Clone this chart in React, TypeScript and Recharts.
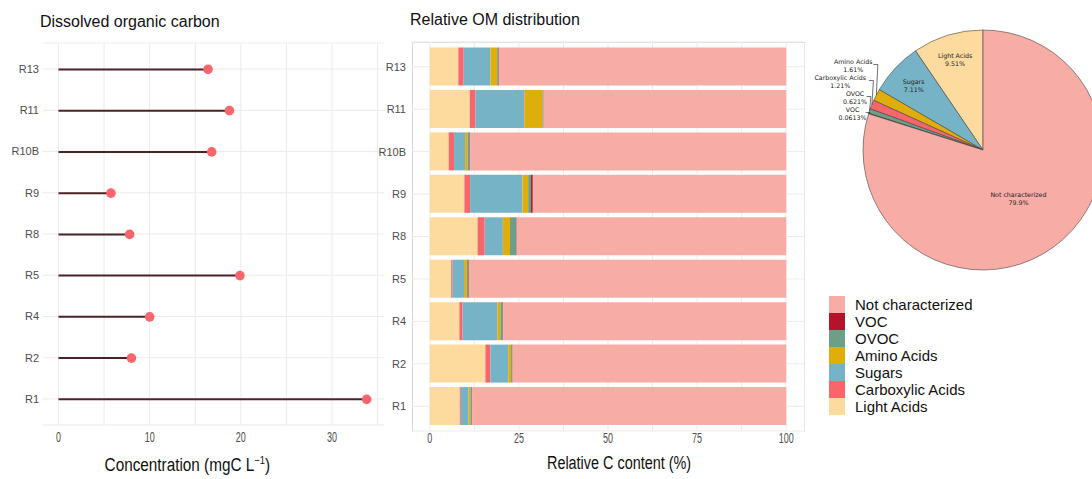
import React from 'react';
import { BarChart, Bar, XAxis, YAxis, CartesianGrid, PieChart, Pie, Cell } from 'recharts';

// ---------- data ----------
const sites = ['R13', 'R11', 'R10B', 'R9', 'R8', 'R5', 'R4', 'R2', 'R1'];
const docValues = [16.4, 18.75, 16.8, 5.75, 7.8, 19.9, 10.0, 8.0, 33.8];

const lightAcids = [8.0, 11.2, 5.3, 9.7, 13.4, 6.0, 8.3, 15.6, 8.4];
const carboxylicAcids = [1.5, 1.6, 1.5, 1.6, 2.0, 0.4, 0.9, 1.4, 0.3];
const sugars = [7.5, 13.7, 3.1, 14.7, 5.1, 3.2, 9.8, 5.0, 2.2];
const aminoAcids = [1.9, 5.1, 0.7, 1.6, 2.0, 0.8, 0.8, 0.8, 0.5];
const ovoc = [0.4, 0.3, 0.6, 0.8, 1.8, 0.5, 0.7, 0.4, 0.4];
const voc = [0.1, 0.05, 0.1, 0.5, 0.1, 0.1, 0.1, 0.05, 0.05];

const pieNames = ['Light Acids', 'Sugars', 'Amino Acids', 'Carboxylic Acids', 'OVOC', 'VOC', 'Not characterized'];
const pieValues = [9.51, 7.11, 1.61, 1.21, 0.621, 0.0613, 79.9];

const docTicks = [0, 10, 20, 30];
const docGrid = [0, 5, 10, 15, 20, 25, 30, 35];
const relTicks = [0, 25, 50, 75, 100];
const relGrid = [0, 12.5, 25, 37.5, 50, 62.5, 75, 87.5, 100];

const legendOrder = ['Not characterized', 'VOC', 'OVOC', 'Amino Acids', 'Sugars', 'Carboxylic Acids', 'Light Acids'];

const COLORS: Record<string, string> = {
  'Not characterized': '#F7ACA6',
  VOC: '#B5132A',
  OVOC: '#6E9E88',
  'Amino Acids': '#E0AE0A',
  Sugars: '#77B3C6',
  'Carboxylic Acids': '#F8656B',
  'Light Acids': '#FDDA9E',
};

// ---------- tables ----------
const docData = sites.map((s, i) => ({ site: s, doc: docValues[i] }));
const relData = sites.map((s, i) => {
  const known = lightAcids[i] + carboxylicAcids[i] + sugars[i] + aminoAcids[i] + ovoc[i] + voc[i];
  return {
    site: s,
    'Light Acids': lightAcids[i],
    'Carboxylic Acids': carboxylicAcids[i],
    Sugars: sugars[i],
    'Amino Acids': aminoAcids[i],
    OVOC: ovoc[i],
    VOC: voc[i],
    'Not characterized': 100 - known,
  };
});
const stackKeys = ['Light Acids', 'Carboxylic Acids', 'Sugars', 'Amino Acids', 'OVOC', 'VOC', 'Not characterized'];
const pieData = pieNames.map((n, i) => ({ name: n, value: pieValues[i] }));

const SANS = '"Liberation Sans", Arial, sans-serif';

const Lollipop = (props: any) => {
  const { x, y, width, height } = props;
  const cy = y + height / 2;
  return (
    <g>
      <line x1={x} y1={cy} x2={x + width} y2={cy} stroke="#4B2226" strokeWidth={2} />
      <circle cx={x + width} cy={cy} r={4.8} fill="#F8656B" />
    </g>
  );
};

// condensed numeric tick
const NarrowTick = (props: any) => {
  const { x, y, payload } = props;
  const s = String(payload.value);
  return (
    <text
      x={x}
      y={y}
      dy="0.71em"
      textAnchor="middle"
      fontSize={14}
      fontFamily={SANS}
      fill="#4D4D4D"
      textLength={s.length * 5}
      lengthAdjust="spacingAndGlyphs"
    >
      {s}
    </text>
  );
};

// pie label helpers
const RAD = Math.PI / 180;
const total = pieValues.reduce((a, b) => a + b, 0);
const midAngles = (() => {
  let cum = 0;
  return pieValues.map((v) => {
    const m = 90 + (360 * (cum + v / 2)) / total;
    cum += v;
    return m;
  });
})();
const smallIdx = pieValues.map((v, i) => (v / total < 0.02 ? i : -1)).filter((i) => i >= 0);
const PFS = 6.3;

const renderPieLabel = (p: any) => {
  const { cx, cy, outerRadius, index } = p;
  const name = pieNames[index];
  const pct = pieValues[index].toPrecision(3) + '%';
  const mid = midAngles[index];
  const common = { fontSize: PFS, fontFamily: '"DejaVu Sans", Verdana, sans-serif', fill: '#222', dominantBaseline: 'central' as any };
  if (!smallIdx.includes(index)) {
    const rr = outerRadius * (pieValues[index] / total > 0.5 ? 0.5 : 0.79);
    const x = cx + rr * Math.cos(mid * RAD);
    const y = cy - rr * Math.sin(mid * RAD);
    return (
      <text key={`l${index}`} textAnchor="middle" {...common}>
        <tspan x={x} y={y - 4}>{name}</tspan>
        <tspan x={x} y={y + 4}>{pct}</tspan>
      </text>
    );
  }
  const rank = smallIdx.indexOf(index);
  const n = smallIdx.length;
  const lastMid = midAngles[smallIdx[n - 1]];
  const lastEdgeY = cy - outerRadius * Math.sin(lastMid * RAD);
  const y1 = lastEdgeY - 4.5 - 16 * (n - 1 - rank);
  const ex = cx + outerRadius * Math.cos(mid * RAD);
  const ey = cy - outerRadius * Math.sin(mid * RAD);
  const w = Math.max(name.length, pct.length) * PFS * 0.55;
  const right = ex - 4;
  const center = right - w / 2;
  return (
    <g key={`l${index}`}>
      <polyline
        points={`${right + 1},${y1 + 3.5} ${ex + 1.5},${y1 + 3.5} ${ex},${ey}`}
        fill="none"
        stroke="#333"
        strokeWidth={0.7}
      />
      <text textAnchor="middle" {...common}>
        <tspan x={center} y={y1}>{name}</tspan>
        <tspan x={center} y={y1 + 8}>{pct}</tspan>
      </text>
    </g>
  );
};

const abs = (l: number, t: number): React.CSSProperties => ({ position: 'absolute', left: l, top: t });

export default function App() {
  return (
    <div style={{ position: 'absolute', left: 0, top: 0, width: 1092, height: 479, background: '#fff', overflow: 'hidden', fontFamily: SANS }}>
      {/* titles */}
      <div style={{ ...abs(40, 12), fontSize: 16, lineHeight: '20px', color: '#111', whiteSpace: 'nowrap' }}>Dissolved organic carbon</div>
      <div style={{ ...abs(410, 10), fontSize: 16, lineHeight: '20px', color: '#111', whiteSpace: 'nowrap' }}>Relative OM distribution</div>

      {/* left lollipop chart */}
      <div style={abs(0, 0)}>
        <BarChart width={392} height={479} data={docData} layout="vertical" margin={{ top: 43, right: 8, bottom: 24, left: 0 }}>
          <CartesianGrid stroke="#EBEBEB" verticalValues={docGrid} />
          <XAxis
            type="number"
            dataKey="doc"
            domain={[-1.7, 35.7]}
            ticks={docTicks}
            height={30}
            tickLine={false}
            axisLine={false}
            tickSize={5}
            tickMargin={2}
            tick={NarrowTick}
          />
          <YAxis
            type="category"
            dataKey="site"
            width={43}
            tickLine={false}
            axisLine={false}
            tickSize={2}
            tickMargin={2}
            padding={{ top: 5.4, bottom: 5.4 }}
            tick={{ fill: '#4D4D4D', fontSize: 11, fontFamily: SANS }}
          />
          <Bar dataKey="doc" barSize={10} shape={Lollipop} isAnimationActive={false} />
        </BarChart>
      </div>
      <div style={{ ...abs(0, 453), width: 375, textAlign: 'center', lineHeight: '24px', color: '#111' }}>
        <span style={{ display: 'inline-block', fontSize: 18, transform: 'scaleX(0.85)' }}>
          Concentration (mgC L<sup style={{ fontSize: 11, lineHeight: 0 }}>−1</sup>)
        </span>
      </div>

      {/* middle stacked bar chart */}
      <div style={{ ...abs(412, 42), width: 391, height: 389, borderTop: '1px solid #D6D6D6', borderLeft: '1px solid #D6D6D6', borderRight: '1px solid #E6E6E6' }} />
      <div style={abs(360, 0)}>
        <BarChart width={450} height={479} data={relData} layout="vertical" margin={{ top: 42, right: 6, bottom: 20, left: 0 }}>
          <CartesianGrid stroke="#EBEBEB" verticalValues={relGrid} />
          <XAxis
            type="number"
            domain={[-5, 105]}
            ticks={relTicks}
            height={28}
            tickLine={false}
            axisLine={false}
            tickSize={1}
            tickMargin={1}
            tick={NarrowTick}
          />
          <YAxis
            type="category"
            dataKey="site"
            width={52}
            tickLine={false}
            axisLine={false}
            tickSize={4}
            tickMargin={2}
            padding={{ top: 3.5, bottom: 3.5 }}
            tick={{ fill: '#4D4D4D', fontSize: 11, fontFamily: SANS }}
          />
          {stackKeys.map((k) => (
            <Bar key={k} dataKey={k} stackId="a" barSize={38} fill={COLORS[k]} isAnimationActive={false} />
          ))}
        </BarChart>
      </div>
      <div style={{ ...abs(519, 451), width: 200, textAlign: 'center', lineHeight: '24px', color: '#111' }}>
        <span style={{ display: 'inline-block', fontSize: 18, transform: 'scaleX(0.8)', whiteSpace: 'nowrap' }}>Relative C content (%)</span>
      </div>

      {/* pie */}
      <div style={abs(792, 0)}>
        <PieChart width={300} height={290} margin={{ top: 0, right: 0, bottom: 0, left: 0 }}>
          <Pie
            data={pieData}
            dataKey="value"
            nameKey="name"
            cx={191}
            cy={150}
            outerRadius={120}
            startAngle={90}
            endAngle={450}
            stroke="#444"
            strokeWidth={0.6}
            label={renderPieLabel}
            labelLine={false}
            isAnimationActive={false}
          >
            {pieData.map((d) => (
              <Cell key={d.name} fill={COLORS[d.name]} />
            ))}
          </Pie>
        </PieChart>
      </div>

      {/* legend */}
      <div style={abs(829, 296)}>
        {legendOrder.map((k) => (
          <div key={k} style={{ display: 'flex', alignItems: 'center', height: 17 }}>
            <div style={{ width: 16, height: 17, background: COLORS[k] }} />
            <div style={{ marginLeft: 10, fontSize: 15, lineHeight: '17px', color: '#111', whiteSpace: 'nowrap' }}>{k}</div>
          </div>
        ))}
      </div>
    </div>
  );
}
